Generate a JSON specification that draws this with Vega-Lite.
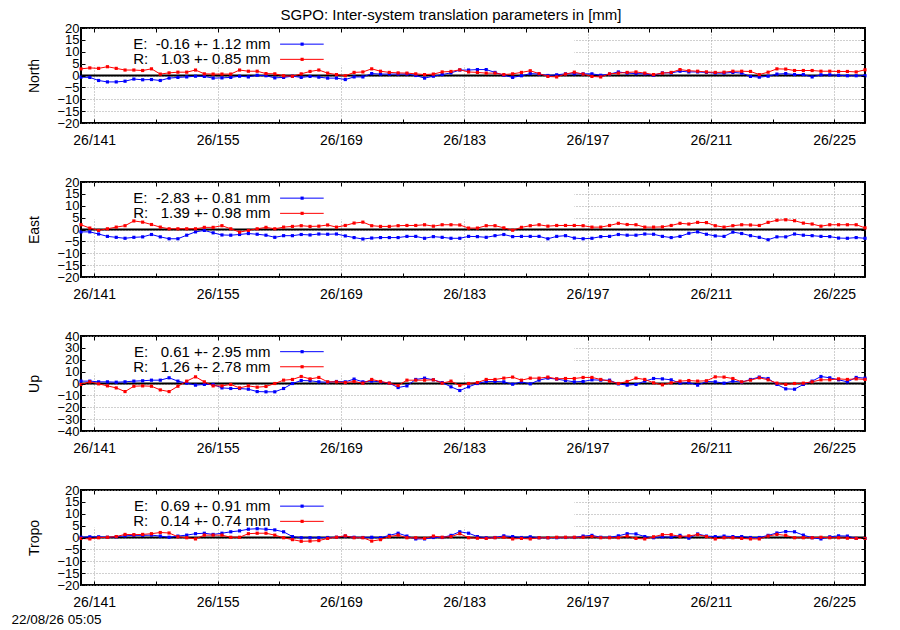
{
"$schema": "https://vega.github.io/schema/vega-lite/v6.json",
"background": "white",
"padding": {"left": 10, "top": 8, "right": 5, "bottom": 0},
"title": {"text": "SGPO: Inter-system translation parameters in [mm]", "fontSize": 15, "fontWeight": "normal", "font": "Liberation Sans", "color": "black", "anchor": "middle", "offset": -14, "dx": 12, "baseline": "alphabetic"},
"bounds": "flush",
"spacing": 59,
"datasets": {
"north": [
{"t":139.5,"E":-0.7,"R":2.8},{"t":140.5,"E":-0.8,"R":3.2},{"t":141.5,"E":-2.1,"R":3.0},{"t":142.5,"E":-2.7,"R":3.7},{"t":143.5,"E":-2.7,"R":3.0},
{"t":144.5,"E":-2.4,"R":2.3},{"t":145.5,"E":-1.5,"R":2.3},{"t":146.5,"E":-1.8,"R":2.1},{"t":147.5,"E":-1.7,"R":2.8},{"t":148.5,"E":-2.1,"R":0.6},
{"t":149.5,"E":-1.1,"R":1.1},{"t":150.5,"E":-0.8,"R":1.4},{"t":151.5,"E":-0.6,"R":1.4},{"t":152.5,"E":-0.3,"R":2.3},{"t":153.5,"E":-0.4,"R":0.7},
{"t":154.5,"E":-1.1,"R":0.6},{"t":155.5,"E":-1.0,"R":0.6},{"t":156.5,"E":-0.8,"R":0.6},{"t":157.5,"E":-0.3,"R":2.3},{"t":158.5,"E":-0.6,"R":1.8},
{"t":159.5,"E":0.1,"R":1.8},{"t":160.5,"E":-0.1,"R":0.8},{"t":161.5,"E":-1.0,"R":0.7},{"t":162.5,"E":-0.8,"R":-0.1},{"t":163.5,"E":-0.3,"R":-0.3},
{"t":164.5,"E":-0.8,"R":0.7},{"t":165.5,"E":-0.4,"R":1.7},{"t":166.5,"E":-0.7,"R":2.3},{"t":167.5,"E":-1.1,"R":1.0},{"t":168.5,"E":-1.1,"R":0.4},
{"t":169.5,"E":-1.7,"R":-0.1},{"t":170.5,"E":-0.6,"R":1.3},{"t":171.5,"E":-0.6,"R":1.5},{"t":172.5,"E":0.8,"R":2.8},{"t":173.5,"E":0.6,"R":1.8},
{"t":174.5,"E":0.6,"R":1.3},{"t":175.5,"E":0.6,"R":1.1},{"t":176.5,"E":0.6,"R":1.0},{"t":177.5,"E":0.0,"R":0.7},{"t":178.5,"E":-1.1,"R":0.4},
{"t":179.5,"E":-0.3,"R":0.6},{"t":180.5,"E":0.4,"R":1.5},{"t":181.5,"E":1.1,"R":1.7},{"t":182.5,"E":2.3,"R":2.4},{"t":183.5,"E":2.3,"R":1.5},
{"t":184.5,"E":2.5,"R":1.3},{"t":185.5,"E":2.5,"R":1.0},{"t":186.5,"E":1.3,"R":1.0},{"t":187.5,"E":0.1,"R":0.4},{"t":188.5,"E":-0.8,"R":0.7},
{"t":189.5,"E":-0.1,"R":1.3},{"t":190.5,"E":0.8,"R":2.0},{"t":191.5,"E":0.6,"R":0.8},{"t":192.5,"E":0.0,"R":-0.4},{"t":193.5,"E":0.3,"R":-0.6},
{"t":194.5,"E":0.7,"R":0.6},{"t":195.5,"E":0.7,"R":1.4},{"t":196.5,"E":0.7,"R":0.6},{"t":197.5,"E":0.7,"R":-0.4},{"t":198.5,"E":0.1,"R":-0.6},
{"t":199.5,"E":0.6,"R":0.7},{"t":200.5,"E":1.5,"R":1.0},{"t":201.5,"E":1.0,"R":1.3},{"t":202.5,"E":0.8,"R":1.5},{"t":203.5,"E":0.7,"R":1.0},
{"t":204.5,"E":0.1,"R":0.4},{"t":205.5,"E":1.1,"R":1.0},{"t":206.5,"E":1.1,"R":1.3},{"t":207.5,"E":1.8,"R":2.5},{"t":208.5,"E":1.5,"R":2.0},
{"t":209.5,"E":1.5,"R":1.8},{"t":210.5,"E":1.3,"R":1.5},{"t":211.5,"E":1.0,"R":1.3},{"t":212.5,"E":1.0,"R":1.4},{"t":213.5,"E":1.3,"R":1.8},
{"t":214.5,"E":1.0,"R":1.8},{"t":215.5,"E":-0.4,"R":1.7},{"t":216.5,"E":-0.7,"R":0.4},{"t":217.5,"E":-0.3,"R":1.4},{"t":218.5,"E":0.6,"R":2.8},
{"t":219.5,"E":0.8,"R":2.7},{"t":220.5,"E":0.4,"R":2.1},{"t":221.5,"E":0.4,"R":2.1},{"t":222.5,"E":-0.6,"R":2.1},{"t":223.5,"E":0.3,"R":1.8},
{"t":224.5,"E":0.3,"R":1.8},{"t":225.5,"E":0.1,"R":1.7},{"t":226.5,"E":-0.1,"R":1.7},{"t":227.5,"E":-0.1,"R":1.5},{"t":228.5,"E":-0.1,"R":2.4}
],
"east": [
{"t":139.5,"E":-1.0,"R":2.0},{"t":140.5,"E":-1.0,"R":0.6},{"t":141.5,"E":-1.9,"R":-0.4},{"t":142.5,"E":-2.9,"R":0.3},{"t":143.5,"E":-3.3,"R":1.0},
{"t":144.5,"E":-3.7,"R":1.6},{"t":145.5,"E":-3.3,"R":3.6},{"t":146.5,"E":-3.1,"R":3.1},{"t":147.5,"E":-2.1,"R":2.1},{"t":148.5,"E":-3.1,"R":1.0},
{"t":149.5,"E":-3.9,"R":0.3},{"t":150.5,"E":-3.9,"R":0.3},{"t":151.5,"E":-2.4,"R":0.3},{"t":152.5,"E":-1.0,"R":0.3},{"t":153.5,"E":-0.4,"R":0.9},
{"t":154.5,"E":-1.4,"R":0.9},{"t":155.5,"E":-2.3,"R":1.6},{"t":156.5,"E":-2.4,"R":0.3},{"t":157.5,"E":-2.1,"R":-1.1},{"t":158.5,"E":-1.7,"R":-0.4},
{"t":159.5,"E":-2.0,"R":0.3},{"t":160.5,"E":-2.4,"R":0.9},{"t":161.5,"E":-3.3,"R":0.3},{"t":162.5,"E":-2.6,"R":1.0},{"t":163.5,"E":-2.6,"R":1.3},
{"t":164.5,"E":-2.1,"R":1.6},{"t":165.5,"E":-2.3,"R":1.3},{"t":166.5,"E":-1.9,"R":1.4},{"t":167.5,"E":-2.0,"R":1.9},{"t":168.5,"E":-1.9,"R":1.0},
{"t":169.5,"E":-2.7,"R":1.7},{"t":170.5,"E":-3.4,"R":2.7},{"t":171.5,"E":-4.0,"R":3.1},{"t":172.5,"E":-3.6,"R":1.6},{"t":173.5,"E":-3.4,"R":1.3},
{"t":174.5,"E":-3.4,"R":1.3},{"t":175.5,"E":-3.4,"R":1.6},{"t":176.5,"E":-2.9,"R":1.7},{"t":177.5,"E":-2.9,"R":1.7},{"t":178.5,"E":-3.7,"R":2.0},
{"t":179.5,"E":-3.0,"R":1.4},{"t":180.5,"E":-3.3,"R":2.0},{"t":181.5,"E":-3.7,"R":2.0},{"t":182.5,"E":-3.7,"R":1.9},{"t":183.5,"E":-2.9,"R":0.6},
{"t":184.5,"E":-3.0,"R":0.6},{"t":185.5,"E":-3.3,"R":1.6},{"t":186.5,"E":-2.6,"R":1.6},{"t":187.5,"E":-2.1,"R":0.7},{"t":188.5,"E":-3.0,"R":-0.3},
{"t":189.5,"E":-2.9,"R":0.9},{"t":190.5,"E":-2.9,"R":1.6},{"t":191.5,"E":-2.9,"R":2.0},{"t":192.5,"E":-3.9,"R":1.4},{"t":193.5,"E":-2.9,"R":1.7},
{"t":194.5,"E":-2.6,"R":1.7},{"t":195.5,"E":-3.6,"R":1.7},{"t":196.5,"E":-3.9,"R":1.6},{"t":197.5,"E":-3.7,"R":1.0},{"t":198.5,"E":-3.0,"R":1.0},
{"t":199.5,"E":-2.9,"R":1.7},{"t":200.5,"E":-2.1,"R":2.6},{"t":201.5,"E":-2.4,"R":2.1},{"t":202.5,"E":-2.4,"R":2.0},{"t":203.5,"E":-1.9,"R":1.0},
{"t":204.5,"E":-2.0,"R":1.0},{"t":205.5,"E":-2.9,"R":1.1},{"t":206.5,"E":-3.4,"R":1.7},{"t":207.5,"E":-2.9,"R":2.6},{"t":208.5,"E":-1.6,"R":2.3},
{"t":209.5,"E":-1.0,"R":3.0},{"t":210.5,"E":-2.0,"R":2.9},{"t":211.5,"E":-2.7,"R":1.6},{"t":212.5,"E":-2.9,"R":1.0},{"t":213.5,"E":-1.1,"R":1.6},
{"t":214.5,"E":-1.7,"R":2.0},{"t":215.5,"E":-2.6,"R":1.9},{"t":216.5,"E":-3.3,"R":1.7},{"t":217.5,"E":-4.3,"R":3.0},{"t":218.5,"E":-3.1,"R":3.9},
{"t":219.5,"E":-3.1,"R":4.1},{"t":220.5,"E":-1.9,"R":3.7},{"t":221.5,"E":-2.4,"R":2.7},{"t":222.5,"E":-2.6,"R":2.3},{"t":223.5,"E":-2.9,"R":1.4},
{"t":224.5,"E":-3.0,"R":2.0},{"t":225.5,"E":-3.6,"R":2.0},{"t":226.5,"E":-3.7,"R":2.0},{"t":227.5,"E":-3.4,"R":2.0},{"t":228.5,"E":-3.7,"R":0.7}
],
"up": [
{"t":139.5,"E":2.0,"R":-0.8},{"t":140.5,"E":2.0,"R":1.4},{"t":141.5,"E":1.4,"R":-0.3},{"t":142.5,"E":1.4,"R":-2.0},{"t":143.5,"E":1.1,"R":-3.7},
{"t":144.5,"E":1.4,"R":-6.8},{"t":145.5,"E":2.0,"R":-2.3},{"t":146.5,"E":2.3,"R":-2.0},{"t":147.5,"E":2.8,"R":-2.3},{"t":148.5,"E":2.8,"R":-5.4},
{"t":149.5,"E":4.8,"R":-6.8},{"t":150.5,"E":2.0,"R":-2.3},{"t":151.5,"E":0.3,"R":2.0},{"t":152.5,"E":-1.4,"R":5.6},{"t":153.5,"E":-0.8,"R":1.4},
{"t":154.5,"E":-0.8,"R":-2.0},{"t":155.5,"E":-3.7,"R":-2.0},{"t":156.5,"E":-4.2,"R":-0.8},{"t":157.5,"E":-4.2,"R":-3.7},{"t":158.5,"E":-4.8,"R":-2.0},
{"t":159.5,"E":-6.8,"R":-3.1},{"t":160.5,"E":-7.0,"R":-2.5},{"t":161.5,"E":-7.0,"R":0.0},{"t":162.5,"E":-4.2,"R":2.8},{"t":163.5,"E":0.0,"R":3.4},
{"t":164.5,"E":2.5,"R":5.9},{"t":165.5,"E":2.3,"R":3.9},{"t":166.5,"E":1.4,"R":5.1},{"t":167.5,"E":1.1,"R":1.4},{"t":168.5,"E":1.7,"R":1.4},
{"t":169.5,"E":1.4,"R":0.8},{"t":170.5,"E":3.7,"R":1.7},{"t":171.5,"E":1.4,"R":0.3},{"t":172.5,"E":2.0,"R":3.4},{"t":173.5,"E":1.4,"R":1.7},
{"t":174.5,"E":0.3,"R":0.3},{"t":175.5,"E":-3.4,"R":-1.7},{"t":176.5,"E":-2.0,"R":2.8},{"t":177.5,"E":3.4,"R":2.8},{"t":178.5,"E":4.5,"R":2.8},
{"t":179.5,"E":3.1,"R":3.1},{"t":180.5,"E":0.8,"R":0.3},{"t":181.5,"E":-2.8,"R":2.0},{"t":182.5,"E":-5.9,"R":-1.7},{"t":183.5,"E":-2.8,"R":0.0},
{"t":184.5,"E":0.0,"R":0.8},{"t":185.5,"E":1.7,"R":3.4},{"t":186.5,"E":1.7,"R":3.4},{"t":187.5,"E":1.4,"R":4.5},{"t":188.5,"E":-0.6,"R":5.4},
{"t":189.5,"E":1.4,"R":2.8},{"t":190.5,"E":-0.3,"R":4.5},{"t":191.5,"E":2.8,"R":4.5},{"t":192.5,"E":4.5,"R":5.4},{"t":193.5,"E":3.7,"R":3.9},
{"t":194.5,"E":2.5,"R":4.2},{"t":195.5,"E":1.4,"R":4.2},{"t":196.5,"E":1.7,"R":5.1},{"t":197.5,"E":3.1,"R":5.1},{"t":198.5,"E":2.8,"R":3.4},
{"t":199.5,"E":2.8,"R":2.0},{"t":200.5,"E":-0.3,"R":0.0},{"t":201.5,"E":-1.4,"R":1.7},{"t":202.5,"E":-0.8,"R":4.5},{"t":203.5,"E":2.0,"R":3.4},
{"t":204.5,"E":4.2,"R":0.6},{"t":205.5,"E":3.9,"R":-1.1},{"t":206.5,"E":3.1,"R":0.6},{"t":207.5,"E":0.3,"R":2.0},{"t":208.5,"E":0.8,"R":2.5},
{"t":209.5,"E":-1.4,"R":2.0},{"t":210.5,"E":1.7,"R":2.3},{"t":211.5,"E":1.4,"R":5.6},{"t":212.5,"E":0.3,"R":5.4},{"t":213.5,"E":2.0,"R":4.2},
{"t":214.5,"E":1.1,"R":1.4},{"t":215.5,"E":3.4,"R":2.8},{"t":216.5,"E":5.4,"R":4.8},{"t":217.5,"E":4.2,"R":3.1},{"t":218.5,"E":-0.8,"R":0.3},
{"t":219.5,"E":-4.5,"R":-0.8},{"t":220.5,"E":-4.8,"R":0.0},{"t":221.5,"E":-0.8,"R":0.3},{"t":222.5,"E":2.0,"R":1.4},{"t":223.5,"E":5.9,"R":3.1},
{"t":224.5,"E":4.8,"R":3.1},{"t":225.5,"E":3.1,"R":3.9},{"t":226.5,"E":1.4,"R":3.4},{"t":227.5,"E":5.1,"R":3.9},{"t":228.5,"E":4.5,"R":3.4}
],
"tropo": [
{"t":139.5,"E":0.1,"R":-0.4},{"t":140.5,"E":0.3,"R":-0.6},{"t":141.5,"E":0.3,"R":-0.1},{"t":142.5,"E":0.1,"R":0.1},{"t":143.5,"E":0.3,"R":0.4},
{"t":144.5,"E":0.7,"R":1.3},{"t":145.5,"E":0.9,"R":1.2},{"t":146.5,"E":0.9,"R":1.3},{"t":147.5,"E":1.0,"R":1.6},{"t":148.5,"E":0.6,"R":2.1},
{"t":149.5,"E":0.1,"R":1.9},{"t":150.5,"E":0.6,"R":0.3},{"t":151.5,"E":1.0,"R":-0.1},{"t":152.5,"E":1.6,"R":-0.6},{"t":153.5,"E":1.8,"R":1.0},
{"t":154.5,"E":1.3,"R":1.0},{"t":155.5,"E":1.8,"R":1.0},{"t":156.5,"E":2.4,"R":0.1},{"t":157.5,"E":2.8,"R":0.1},{"t":158.5,"E":3.5,"R":1.6},
{"t":159.5,"E":3.7,"R":1.8},{"t":160.5,"E":3.5,"R":1.8},{"t":161.5,"E":3.2,"R":1.0},{"t":162.5,"E":2.4,"R":-0.1},{"t":163.5,"E":0.4,"R":-0.9},
{"t":164.5,"E":-0.1,"R":-1.6},{"t":165.5,"E":-0.1,"R":-1.5},{"t":166.5,"E":-0.1,"R":-1.3},{"t":167.5,"E":0.0,"R":-0.4},{"t":168.5,"E":0.1,"R":0.1},
{"t":169.5,"E":0.6,"R":0.7},{"t":170.5,"E":0.1,"R":-0.1},{"t":171.5,"E":0.0,"R":-0.1},{"t":172.5,"E":0.1,"R":-1.5},{"t":173.5,"E":-0.1,"R":-0.9},
{"t":174.5,"E":0.9,"R":0.4},{"t":175.5,"E":1.8,"R":1.0},{"t":176.5,"E":0.6,"R":-0.1},{"t":177.5,"E":-0.6,"R":-0.1},{"t":178.5,"E":-0.6,"R":-0.4},
{"t":179.5,"E":0.0,"R":0.6},{"t":180.5,"E":0.0,"R":0.1},{"t":181.5,"E":0.9,"R":0.4},{"t":182.5,"E":2.4,"R":1.6},{"t":183.5,"E":1.8,"R":-0.1},
{"t":184.5,"E":0.4,"R":-0.3},{"t":185.5,"E":-0.1,"R":-0.4},{"t":186.5,"E":0.0,"R":-0.1},{"t":187.5,"E":0.7,"R":0.1},{"t":188.5,"E":0.4,"R":-0.6},
{"t":189.5,"E":0.0,"R":-0.4},{"t":190.5,"E":0.3,"R":-0.6},{"t":191.5,"E":-0.1,"R":-0.1},{"t":192.5,"E":-0.1,"R":-0.1},{"t":193.5,"E":-0.1,"R":0.1},
{"t":194.5,"E":0.0,"R":0.1},{"t":195.5,"E":0.0,"R":0.1},{"t":196.5,"E":0.6,"R":0.1},{"t":197.5,"E":0.9,"R":0.4},{"t":198.5,"E":0.1,"R":-0.1},
{"t":199.5,"E":0.1,"R":-0.1},{"t":200.5,"E":0.7,"R":-0.1},{"t":201.5,"E":1.6,"R":0.6},{"t":202.5,"E":1.5,"R":-0.4},{"t":203.5,"E":0.4,"R":-0.6},
{"t":204.5,"E":-0.1,"R":0.3},{"t":205.5,"E":0.3,"R":1.2},{"t":206.5,"E":0.1,"R":1.2},{"t":207.5,"E":0.9,"R":0.4},{"t":208.5,"E":-0.3,"R":0.7},
{"t":209.5,"E":1.5,"R":1.2},{"t":210.5,"E":0.6,"R":0.4},{"t":211.5,"E":0.4,"R":-0.6},{"t":212.5,"E":0.6,"R":-0.1},{"t":213.5,"E":0.4,"R":-0.1},
{"t":214.5,"E":0.4,"R":-0.4},{"t":215.5,"E":0.0,"R":-0.6},{"t":216.5,"E":0.0,"R":-0.6},{"t":217.5,"E":0.9,"R":0.6},{"t":218.5,"E":1.9,"R":1.3},
{"t":219.5,"E":2.5,"R":0.9},{"t":220.5,"E":2.4,"R":-0.1},{"t":221.5,"E":1.0,"R":-0.1},{"t":222.5,"E":-0.1,"R":-0.1},{"t":223.5,"E":-0.6,"R":0.1},
{"t":224.5,"E":0.3,"R":-0.1},{"t":225.5,"E":0.7,"R":-0.1},{"t":226.5,"E":0.6,"R":-0.3},{"t":227.5,"E":-0.4,"R":-0.4},{"t":228.5,"E":-0.4,"R":-0.4}
]
},
"vconcat": [
{
"width": 784, "height": 95,
"data": {"name": "north"},
"transform": [{"fold": ["E","R"], "as": ["series","value"]}],
"resolve": {"axis": {"x": "independent", "y": "independent"}},
"layer": [
{"transform": [{"filter": "datum.t == 139.5 && datum.series == 'E'"}], "mark": {"type": "rect", "fill": "white"},
 "encoding": {
  "x": {"datum": 139.62, "type": "quantitative", "scale": {"domain": [139.5, 228.5], "nice": false, "zero": false}, "axis": {"orient": "bottom", "values": [141,155,169,183,197,211,225], "grid": true, "labels": false, "ticks": false, "domain": false, "title": null, "zindex": 0}},
  "x2": {"datum": 195.5},
  "y": {"datum": 19.5, "type": "quantitative", "scale": {"domain": [-20, 20], "nice": false, "zero": false}, "axis": {"orient": "left", "values": [-20,-15,-10,-5,0,5,10,15,20], "grid": true, "labels": false, "ticks": false, "domain": false, "title": null, "zindex": 0}},
  "y2": {"datum": 4.2}}},
{"transform": [{"filter": "datum.t == 139.5 && datum.series == 'E'"}], "mark": {"type": "rule", "color": "black", "strokeWidth": 2}, "encoding": {"y": {"datum": 0, "type": "quantitative", "axis": null}}},
{"mark": {"type": "line", "strokeWidth": 1, "point": {"filled": true, "shape": "square", "size": 10}},
 "encoding": {
  "x": {"field": "t", "type": "quantitative", "axis": {"orient": "bottom", "values": [141,148,155,162,169,176,183,190,197,204,211,218,225], "labelExpr": "(datum.value - 141) % 14 == 0 ? '26/' + datum.value : ''", "grid": false, "tickSize": -4, "labelPadding": 14, "title": null, "zindex": 1}},
  "y": {"field": "value", "type": "quantitative", "axis": {"orient": "left", "values": [-20,-15,-10,-5,0,5,10,15,20], "labelFontSize": 13, "grid": false, "tickSize": -4, "labelPadding": 6, "title": "North", "titleX": -43, "titleY": 47.5, "titleAngle": -90, "titleAlign": "center", "titleBaseline": "alphabetic", "zindex": 1}},
  "color": {"field": "series", "type": "nominal", "scale": {"domain": ["E","R"], "range": ["#0000ff","#ff0000"]}, "legend": null}}},
{"transform": [{"filter": "datum.t == 139.5 && datum.series == 'E'"}], "mark": {"type": "point", "opacity": 0},
 "encoding": {
  "x": {"field": "t", "type": "quantitative", "axis": {"orient": "top", "values": [141,148,155,162,169,176,183,190,197,204,211,218,225], "labels": false, "grid": false, "tickSize": -4, "title": null, "zindex": 1}},
  "y": {"field": "value", "type": "quantitative", "axis": {"orient": "right", "values": [-20,-15,-10,-5,0,5,10,15,20], "labels": false, "grid": false, "tickSize": -4, "title": null, "zindex": 1}}}},
{"transform": [{"filter": "datum.t == 139.5 && datum.series == 'E'"}], "mark": {"type": "text", "align": "right", "baseline": "middle", "fontSize": 15, "font": "Liberation Sans", "color": "black"},
 "encoding": {"x": {"datum": 161.0, "type": "quantitative", "axis": null}, "y": {"datum": 13.2, "type": "quantitative", "axis": null}, "text": {"value": "E:\u00a0\u00a0-0.16 +- 1.12 mm"}}},
{"transform": [{"filter": "datum.t == 139.5 && datum.series == 'E'"}], "mark": {"type": "rule", "color": "#0000ff", "strokeWidth": 1},
 "encoding": {"x": {"datum": 162.1, "type": "quantitative", "axis": null}, "x2": {"datum": 167.05}, "y": {"datum": 13.2, "type": "quantitative", "axis": null}}},
{"transform": [{"filter": "datum.t == 139.5 && datum.series == 'E'"}], "mark": {"type": "point", "filled": true, "shape": "square", "size": 10, "color": "#0000ff", "opacity": 1},
 "encoding": {"x": {"datum": 164.6, "type": "quantitative", "axis": null}, "y": {"datum": 13.2, "type": "quantitative", "axis": null}}},
{"transform": [{"filter": "datum.t == 139.5 && datum.series == 'E'"}], "mark": {"type": "text", "align": "right", "baseline": "middle", "fontSize": 15, "font": "Liberation Sans", "color": "black"},
 "encoding": {"x": {"datum": 161.0, "type": "quantitative", "axis": null}, "y": {"datum": 6.8, "type": "quantitative", "axis": null}, "text": {"value": "R:\u00a0\u00a0\u00a01.03 +- 0.85 mm"}}},
{"transform": [{"filter": "datum.t == 139.5 && datum.series == 'E'"}], "mark": {"type": "rule", "color": "#ff0000", "strokeWidth": 1},
 "encoding": {"x": {"datum": 162.1, "type": "quantitative", "axis": null}, "x2": {"datum": 167.05}, "y": {"datum": 6.8, "type": "quantitative", "axis": null}}},
{"transform": [{"filter": "datum.t == 139.5 && datum.series == 'E'"}], "mark": {"type": "point", "filled": true, "shape": "square", "size": 10, "color": "#ff0000", "opacity": 1},
 "encoding": {"x": {"datum": 164.6, "type": "quantitative", "axis": null}, "y": {"datum": 6.8, "type": "quantitative", "axis": null}}}
]
},
{
"width": 784, "height": 95,
"data": {"name": "east"},
"transform": [{"fold": ["E","R"], "as": ["series","value"]}],
"resolve": {"axis": {"x": "independent", "y": "independent"}},
"layer": [
{"transform": [{"filter": "datum.t == 139.5 && datum.series == 'E'"}], "mark": {"type": "rect", "fill": "white"},
 "encoding": {
  "x": {"datum": 139.62, "type": "quantitative", "scale": {"domain": [139.5, 228.5], "nice": false, "zero": false}, "axis": {"orient": "bottom", "values": [141,155,169,183,197,211,225], "grid": true, "labels": false, "ticks": false, "domain": false, "title": null, "zindex": 0}},
  "x2": {"datum": 195.5},
  "y": {"datum": 19.5, "type": "quantitative", "scale": {"domain": [-20, 20], "nice": false, "zero": false}, "axis": {"orient": "left", "values": [-20,-15,-10,-5,0,5,10,15,20], "grid": true, "labels": false, "ticks": false, "domain": false, "title": null, "zindex": 0}},
  "y2": {"datum": 4.2}}},
{"transform": [{"filter": "datum.t == 139.5 && datum.series == 'E'"}], "mark": {"type": "rule", "color": "black", "strokeWidth": 2}, "encoding": {"y": {"datum": 0, "type": "quantitative", "axis": null}}},
{"mark": {"type": "line", "strokeWidth": 1, "point": {"filled": true, "shape": "square", "size": 10}},
 "encoding": {
  "x": {"field": "t", "type": "quantitative", "axis": {"orient": "bottom", "values": [141,148,155,162,169,176,183,190,197,204,211,218,225], "labelExpr": "(datum.value - 141) % 14 == 0 ? '26/' + datum.value : ''", "grid": false, "tickSize": -4, "labelPadding": 14, "title": null, "zindex": 1}},
  "y": {"field": "value", "type": "quantitative", "axis": {"orient": "left", "values": [-20,-15,-10,-5,0,5,10,15,20], "labelFontSize": 13, "grid": false, "tickSize": -4, "labelPadding": 6, "title": "East", "titleX": -43, "titleY": 47.5, "titleAngle": -90, "titleAlign": "center", "titleBaseline": "alphabetic", "zindex": 1}},
  "color": {"field": "series", "type": "nominal", "scale": {"domain": ["E","R"], "range": ["#0000ff","#ff0000"]}, "legend": null}}},
{"transform": [{"filter": "datum.t == 139.5 && datum.series == 'E'"}], "mark": {"type": "point", "opacity": 0},
 "encoding": {
  "x": {"field": "t", "type": "quantitative", "axis": {"orient": "top", "values": [141,148,155,162,169,176,183,190,197,204,211,218,225], "labels": false, "grid": false, "tickSize": -4, "title": null, "zindex": 1}},
  "y": {"field": "value", "type": "quantitative", "axis": {"orient": "right", "values": [-20,-15,-10,-5,0,5,10,15,20], "labels": false, "grid": false, "tickSize": -4, "title": null, "zindex": 1}}}},
{"transform": [{"filter": "datum.t == 139.5 && datum.series == 'E'"}], "mark": {"type": "text", "align": "right", "baseline": "middle", "fontSize": 15, "font": "Liberation Sans", "color": "black"},
 "encoding": {"x": {"datum": 161.0, "type": "quantitative", "axis": null}, "y": {"datum": 13.2, "type": "quantitative", "axis": null}, "text": {"value": "E:\u00a0\u00a0-2.83 +- 0.81 mm"}}},
{"transform": [{"filter": "datum.t == 139.5 && datum.series == 'E'"}], "mark": {"type": "rule", "color": "#0000ff", "strokeWidth": 1},
 "encoding": {"x": {"datum": 162.1, "type": "quantitative", "axis": null}, "x2": {"datum": 167.05}, "y": {"datum": 13.2, "type": "quantitative", "axis": null}}},
{"transform": [{"filter": "datum.t == 139.5 && datum.series == 'E'"}], "mark": {"type": "point", "filled": true, "shape": "square", "size": 10, "color": "#0000ff", "opacity": 1},
 "encoding": {"x": {"datum": 164.6, "type": "quantitative", "axis": null}, "y": {"datum": 13.2, "type": "quantitative", "axis": null}}},
{"transform": [{"filter": "datum.t == 139.5 && datum.series == 'E'"}], "mark": {"type": "text", "align": "right", "baseline": "middle", "fontSize": 15, "font": "Liberation Sans", "color": "black"},
 "encoding": {"x": {"datum": 161.0, "type": "quantitative", "axis": null}, "y": {"datum": 6.8, "type": "quantitative", "axis": null}, "text": {"value": "R:\u00a0\u00a0\u00a01.39 +- 0.98 mm"}}},
{"transform": [{"filter": "datum.t == 139.5 && datum.series == 'E'"}], "mark": {"type": "rule", "color": "#ff0000", "strokeWidth": 1},
 "encoding": {"x": {"datum": 162.1, "type": "quantitative", "axis": null}, "x2": {"datum": 167.05}, "y": {"datum": 6.8, "type": "quantitative", "axis": null}}},
{"transform": [{"filter": "datum.t == 139.5 && datum.series == 'E'"}], "mark": {"type": "point", "filled": true, "shape": "square", "size": 10, "color": "#ff0000", "opacity": 1},
 "encoding": {"x": {"datum": 164.6, "type": "quantitative", "axis": null}, "y": {"datum": 6.8, "type": "quantitative", "axis": null}}}
]
},
{
"width": 784, "height": 95,
"data": {"name": "up"},
"transform": [{"fold": ["E","R"], "as": ["series","value"]}],
"resolve": {"axis": {"x": "independent", "y": "independent"}},
"layer": [
{"transform": [{"filter": "datum.t == 139.5 && datum.series == 'E'"}], "mark": {"type": "rect", "fill": "white"},
 "encoding": {
  "x": {"datum": 139.62, "type": "quantitative", "scale": {"domain": [139.5, 228.5], "nice": false, "zero": false}, "axis": {"orient": "bottom", "values": [141,155,169,183,197,211,225], "grid": true, "labels": false, "ticks": false, "domain": false, "title": null, "zindex": 0}},
  "x2": {"datum": 195.5},
  "y": {"datum": 39.0, "type": "quantitative", "scale": {"domain": [-40, 40], "nice": false, "zero": false}, "axis": {"orient": "left", "values": [-40,-30,-20,-10,0,10,20,30,40], "grid": true, "labels": false, "ticks": false, "domain": false, "title": null, "zindex": 0}},
  "y2": {"datum": 8.5}}},
{"transform": [{"filter": "datum.t == 139.5 && datum.series == 'E'"}], "mark": {"type": "rule", "color": "black", "strokeWidth": 2}, "encoding": {"y": {"datum": 0, "type": "quantitative", "axis": null}}},
{"mark": {"type": "line", "strokeWidth": 1, "point": {"filled": true, "shape": "square", "size": 10}},
 "encoding": {
  "x": {"field": "t", "type": "quantitative", "axis": {"orient": "bottom", "values": [141,148,155,162,169,176,183,190,197,204,211,218,225], "labelExpr": "(datum.value - 141) % 14 == 0 ? '26/' + datum.value : ''", "grid": false, "tickSize": -4, "labelPadding": 14, "title": null, "zindex": 1}},
  "y": {"field": "value", "type": "quantitative", "axis": {"orient": "left", "values": [-40,-30,-20,-10,0,10,20,30,40], "labelFontSize": 13, "grid": false, "tickSize": -4, "labelPadding": 6, "title": "Up", "titleX": -43, "titleY": 47.5, "titleAngle": -90, "titleAlign": "center", "titleBaseline": "alphabetic", "zindex": 1}},
  "color": {"field": "series", "type": "nominal", "scale": {"domain": ["E","R"], "range": ["#0000ff","#ff0000"]}, "legend": null}}},
{"transform": [{"filter": "datum.t == 139.5 && datum.series == 'E'"}], "mark": {"type": "point", "opacity": 0},
 "encoding": {
  "x": {"field": "t", "type": "quantitative", "axis": {"orient": "top", "values": [141,148,155,162,169,176,183,190,197,204,211,218,225], "labels": false, "grid": false, "tickSize": -4, "title": null, "zindex": 1}},
  "y": {"field": "value", "type": "quantitative", "axis": {"orient": "right", "values": [-40,-30,-20,-10,0,10,20,30,40], "labels": false, "grid": false, "tickSize": -4, "title": null, "zindex": 1}}}},
{"transform": [{"filter": "datum.t == 139.5 && datum.series == 'E'"}], "mark": {"type": "text", "align": "right", "baseline": "middle", "fontSize": 15, "font": "Liberation Sans", "color": "black"},
 "encoding": {"x": {"datum": 161.0, "type": "quantitative", "axis": null}, "y": {"datum": 26.8, "type": "quantitative", "axis": null}, "text": {"value": "E:\u00a0\u00a0\u00a00.61 +- 2.95 mm"}}},
{"transform": [{"filter": "datum.t == 139.5 && datum.series == 'E'"}], "mark": {"type": "rule", "color": "#0000ff", "strokeWidth": 1},
 "encoding": {"x": {"datum": 162.1, "type": "quantitative", "axis": null}, "x2": {"datum": 167.05}, "y": {"datum": 26.8, "type": "quantitative", "axis": null}}},
{"transform": [{"filter": "datum.t == 139.5 && datum.series == 'E'"}], "mark": {"type": "point", "filled": true, "shape": "square", "size": 10, "color": "#0000ff", "opacity": 1},
 "encoding": {"x": {"datum": 164.6, "type": "quantitative", "axis": null}, "y": {"datum": 26.8, "type": "quantitative", "axis": null}}},
{"transform": [{"filter": "datum.t == 139.5 && datum.series == 'E'"}], "mark": {"type": "text", "align": "right", "baseline": "middle", "fontSize": 15, "font": "Liberation Sans", "color": "black"},
 "encoding": {"x": {"datum": 161.0, "type": "quantitative", "axis": null}, "y": {"datum": 14.1, "type": "quantitative", "axis": null}, "text": {"value": "R:\u00a0\u00a0\u00a01.26 +- 2.78 mm"}}},
{"transform": [{"filter": "datum.t == 139.5 && datum.series == 'E'"}], "mark": {"type": "rule", "color": "#ff0000", "strokeWidth": 1},
 "encoding": {"x": {"datum": 162.1, "type": "quantitative", "axis": null}, "x2": {"datum": 167.05}, "y": {"datum": 14.1, "type": "quantitative", "axis": null}}},
{"transform": [{"filter": "datum.t == 139.5 && datum.series == 'E'"}], "mark": {"type": "point", "filled": true, "shape": "square", "size": 10, "color": "#ff0000", "opacity": 1},
 "encoding": {"x": {"datum": 164.6, "type": "quantitative", "axis": null}, "y": {"datum": 14.1, "type": "quantitative", "axis": null}}}
]
},
{
"width": 784, "height": 95,
"data": {"name": "tropo"},
"transform": [{"fold": ["E","R"], "as": ["series","value"]}],
"resolve": {"axis": {"x": "independent", "y": "independent"}},
"layer": [
{"transform": [{"filter": "datum.t == 139.5 && datum.series == 'E'"}], "mark": {"type": "rect", "fill": "white"},
 "encoding": {
  "x": {"datum": 139.62, "type": "quantitative", "scale": {"domain": [139.5, 228.5], "nice": false, "zero": false}, "axis": {"orient": "bottom", "values": [141,155,169,183,197,211,225], "grid": true, "labels": false, "ticks": false, "domain": false, "title": null, "zindex": 0}},
  "x2": {"datum": 195.5},
  "y": {"datum": 19.5, "type": "quantitative", "scale": {"domain": [-20, 20], "nice": false, "zero": false}, "axis": {"orient": "left", "values": [-20,-15,-10,-5,0,5,10,15,20], "grid": true, "labels": false, "ticks": false, "domain": false, "title": null, "zindex": 0}},
  "y2": {"datum": 4.2}}},
{"transform": [{"filter": "datum.t == 139.5 && datum.series == 'E'"}], "mark": {"type": "rule", "color": "black", "strokeWidth": 2}, "encoding": {"y": {"datum": 0, "type": "quantitative", "axis": null}}},
{"mark": {"type": "line", "strokeWidth": 1, "point": {"filled": true, "shape": "square", "size": 10}},
 "encoding": {
  "x": {"field": "t", "type": "quantitative", "axis": {"orient": "bottom", "values": [141,148,155,162,169,176,183,190,197,204,211,218,225], "labelExpr": "(datum.value - 141) % 14 == 0 ? '26/' + datum.value : ''", "grid": false, "tickSize": -4, "labelPadding": 14, "title": "22/08/26 05:05", "titleX": -70, "titleY": 38, "titleAlign": "left", "titleBaseline": "alphabetic", "titleFontSize": 13.5, "zindex": 1}},
  "y": {"field": "value", "type": "quantitative", "axis": {"orient": "left", "values": [-20,-15,-10,-5,0,5,10,15,20], "labelFontSize": 13, "grid": false, "tickSize": -4, "labelPadding": 6, "title": "Tropo", "titleX": -43, "titleY": 47.5, "titleAngle": -90, "titleAlign": "center", "titleBaseline": "alphabetic", "zindex": 1}},
  "color": {"field": "series", "type": "nominal", "scale": {"domain": ["E","R"], "range": ["#0000ff","#ff0000"]}, "legend": null}}},
{"transform": [{"filter": "datum.t == 139.5 && datum.series == 'E'"}], "mark": {"type": "point", "opacity": 0},
 "encoding": {
  "x": {"field": "t", "type": "quantitative", "axis": {"orient": "top", "values": [141,148,155,162,169,176,183,190,197,204,211,218,225], "labels": false, "grid": false, "tickSize": -4, "title": null, "zindex": 1}},
  "y": {"field": "value", "type": "quantitative", "axis": {"orient": "right", "values": [-20,-15,-10,-5,0,5,10,15,20], "labels": false, "grid": false, "tickSize": -4, "title": null, "zindex": 1}}}},
{"transform": [{"filter": "datum.t == 139.5 && datum.series == 'E'"}], "mark": {"type": "text", "align": "right", "baseline": "middle", "fontSize": 15, "font": "Liberation Sans", "color": "black"},
 "encoding": {"x": {"datum": 161.0, "type": "quantitative", "axis": null}, "y": {"datum": 13.2, "type": "quantitative", "axis": null}, "text": {"value": "E:\u00a0\u00a0\u00a00.69 +- 0.91 mm"}}},
{"transform": [{"filter": "datum.t == 139.5 && datum.series == 'E'"}], "mark": {"type": "rule", "color": "#0000ff", "strokeWidth": 1},
 "encoding": {"x": {"datum": 162.1, "type": "quantitative", "axis": null}, "x2": {"datum": 167.05}, "y": {"datum": 13.2, "type": "quantitative", "axis": null}}},
{"transform": [{"filter": "datum.t == 139.5 && datum.series == 'E'"}], "mark": {"type": "point", "filled": true, "shape": "square", "size": 10, "color": "#0000ff", "opacity": 1},
 "encoding": {"x": {"datum": 164.6, "type": "quantitative", "axis": null}, "y": {"datum": 13.2, "type": "quantitative", "axis": null}}},
{"transform": [{"filter": "datum.t == 139.5 && datum.series == 'E'"}], "mark": {"type": "text", "align": "right", "baseline": "middle", "fontSize": 15, "font": "Liberation Sans", "color": "black"},
 "encoding": {"x": {"datum": 161.0, "type": "quantitative", "axis": null}, "y": {"datum": 6.8, "type": "quantitative", "axis": null}, "text": {"value": "R:\u00a0\u00a0\u00a00.14 +- 0.74 mm"}}},
{"transform": [{"filter": "datum.t == 139.5 && datum.series == 'E'"}], "mark": {"type": "rule", "color": "#ff0000", "strokeWidth": 1},
 "encoding": {"x": {"datum": 162.1, "type": "quantitative", "axis": null}, "x2": {"datum": 167.05}, "y": {"datum": 6.8, "type": "quantitative", "axis": null}}},
{"transform": [{"filter": "datum.t == 139.5 && datum.series == 'E'"}], "mark": {"type": "point", "filled": true, "shape": "square", "size": 10, "color": "#ff0000", "opacity": 1},
 "encoding": {"x": {"datum": 164.6, "type": "quantitative", "axis": null}, "y": {"datum": 6.8, "type": "quantitative", "axis": null}}}
]
}
],
"config": {
 "font": "Liberation Sans",
 "view": {"stroke": "black", "strokeWidth": 2},
 "axis": {"labelFont": "Liberation Sans", "labelFontSize": 14, "labelColor": "black", "tickColor": "black", "tickWidth": 1, "titleFont": "Liberation Sans", "titleFontSize": 14, "titleFontWeight": "normal", "titleColor": "black", "domain": false, "labelOverlap": false, "labelFlush": false, "gridColor": "#a0a0a0", "gridDash": [1, 2], "gridOpacity": 1, "gridWidth": 1}
}
}
